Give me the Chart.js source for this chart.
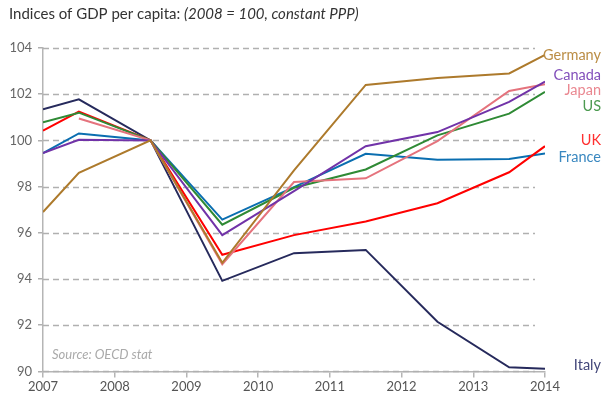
<!DOCTYPE html>
<html>
<head>
<meta charset="utf-8">
<script src="https://cdn.jsdelivr.net/npm/chart.js@4/dist/chart.umd.min.js"></script>
<style>
    html, body { margin: 0; padding: 0; background: #fff; }
    #wrap { position: relative; width: 605px; height: 397px; }
</style>
</head>
<body>
<div id="wrap"><canvas id="gdp"></canvas></div>
<script>
// Anos (pontos no meio do ano, como no original)
const years = [2007, 2007.5, 2008.5, 2009.5, 2010.5, 2011.5, 2012.5, 2013.5, 2014];
const yTicks = [90, 92, 94, 96, 98, 100, 102, 104];

// Séries (2008 = 100)
const germany = [96.9, 98.6, 100, 94.7, 98.7, 102.4, 102.7, 102.9, 103.7];
const canada  = [99.45, 100.03, 100, 95.9, 97.8, 99.75, 100.36, 101.67, 102.55];
const japan   = [null, 100.95, 100, 94.64, 98.2, 98.36, 99.97, 102.14, 102.43];
const us      = [100.78, 101.2, 100, 96.35, 97.95, 98.74, 100.22, 101.16, 102.1];
const uk      = [100.42, 101.25, 100, 95.05, 95.9, 96.49, 97.28, 98.62, 99.75];
const france  = [99.45, 100.3, 100, 96.57, 97.98, 99.42, 99.16, 99.2, 99.43];
const italy   = [101.35, 101.78, 100, 93.92, 95.12, 95.26, 92.15, 90.18, 90.12];

const series = [
    { label: 'Germany', values: germany, color: '#ad7a2c', labelColor: '#bb8d45', offset: 0 },
    { label: 'Canada',  values: canada,  color: '#7133a8', labelColor: '#8350bb', offset: -6 },
    { label: 'Japan',   values: japan,   color: '#e5737d', labelColor: '#ea8891', offset: 6 },
    { label: 'US',      values: us,      color: '#2f8a35', labelColor: '#4c9a50', offset: 14 },
    { label: 'UK',      values: uk,      color: '#ff0000', labelColor: '#ff3030', offset: -6 },
    { label: 'France',  values: france,  color: '#0a6eb0', labelColor: '#3a88c0', offset: 4 },
    { label: 'Italy',   values: italy,   color: '#262a5c', labelColor: '#43477a', offset: -3 },
];

const FONT = 'Lato, "Noto Sans", sans-serif';

// Linhas de grade tracejadas (desenhadas à mão para garantir o tracejado)
const dashedGrid = {
    id: 'dashedGrid',
    beforeDatasetsDraw(chart) {
        const { ctx, chartArea, scales } = chart;
        ctx.save();
        ctx.strokeStyle = '#b0b0b0';
        ctx.lineWidth = 1.5;
        ctx.setLineDash([6, 4]);
        yTicks.forEach(v => {
            const y = Math.round(scales.y.getPixelForValue(v)) + 0.5;
            ctx.beginPath();
            ctx.moveTo(chartArea.left, y);
            ctx.lineTo(chartArea.right - 10, y);
            ctx.stroke();
        });
        ctx.restore();
    }
};

// Título com parte em itálico
const titlePlugin = {
    id: 'titleText',
    afterDraw(chart) {
        const ctx = chart.ctx;
        ctx.save();
        ctx.textBaseline = 'middle';
        ctx.fillStyle = '#333';
        ctx.font = '15px ' + FONT;
        const first = 'Indices of GDP per capita: ';
        ctx.fillText(first, 9, 14);
        const w = ctx.measureText(first).width;
        ctx.font = 'italic 15px ' + FONT;
        ctx.fillText('(2008 = 100, constant PPP)', 9 + w, 14);

        // Fonte
        ctx.font = 'italic 13px ' + FONT;
        ctx.fillStyle = '#aaa';
        ctx.fillText('Source: OECD stat', 52, chart.scales.y.getPixelForValue(90.7));
        ctx.restore();
    }
};

// Rótulos no fim de cada linha
const endLabels = {
    id: 'endLabels',
    afterDatasetsDraw(chart) {
        const ctx = chart.ctx;
        ctx.save();
        ctx.font = '14.5px ' + FONT;
        ctx.textAlign = 'right';
        ctx.textBaseline = 'middle';
        chart.data.datasets.forEach((ds, i) => {
            const meta = chart.getDatasetMeta(i);
            const last = meta.data[meta.data.length - 1];
            ctx.fillStyle = ds.labelColor;
            ctx.fillText(ds.label, 601, last.y + ds.offset);
        });
        ctx.restore();
    }
};

new Chart(document.getElementById('gdp'), {
    type: 'line',
    data: {
        datasets: series.map(s => ({
            label: s.label,
            data: years.map((yr, i) => ({ x: yr, y: s.values[i] })),
            borderColor: s.color,
            backgroundColor: s.color,
            labelColor: s.labelColor,
            offset: s.offset,
            borderWidth: 2,
            pointRadius: 0,
            tension: 0,
            spanGaps: false,
        }))
    },
    options: {
        responsive: true,
        maintainAspectRatio: false,
        animation: false,
        layout: { padding: { top: 48, right: 60, left: 0, bottom: 0 } },
        plugins: {
            legend: { display: false },
            tooltip: { enabled: false },
        },
        scales: {
            x: {
                type: 'linear',
                min: 2007,
                max: 2014,
                border: { color: '#b5b5b5', width: 1.5 },
                grid: { display: true, drawOnChartArea: false, drawTicks: true, tickLength: 6, color: '#b5b5b5', lineWidth: 1.5 },
                ticks: {
                    stepSize: 1,
                    color: '#555',
                    font: { family: FONT, size: 13 },
                    padding: 2,
                    maxRotation: 0,
                    callback: v => String(v),
                },
            },
            y: {
                min: 90,
                max: 104,
                afterFit(scale) { scale.width = 43; },
                afterBuildTicks(scale) { scale.ticks = yTicks.map(v => ({ value: v })); },
                border: { color: '#b5b5b5', width: 1.5 },
                grid: {
                    color: '#b0b0b0',
                    lineWidth: 1.5,
                    drawOnChartArea: false,
                    drawTicks: true,
                    tickLength: 5,
                },
                ticks: {
                    color: '#666',
                    font: { family: FONT, size: 13 },
                    padding: 6,
                },
            },
        },
    },
    plugins: [dashedGrid, titlePlugin, endLabels],
});
</script>
</body>
</html>
